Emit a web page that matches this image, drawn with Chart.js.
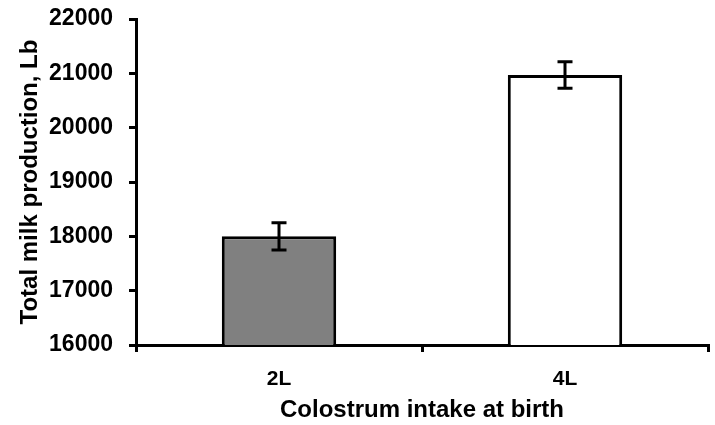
<!DOCTYPE html>
<html>
<head>
<meta charset="utf-8">
<script src="https://cdn.jsdelivr.net/npm/chart.js"></script>
<style>
  html, body { margin: 0; padding: 0; background: #fff; }
  #wrap { width: 715px; height: 425px; }
</style>
</head>
<body>
<div id="wrap"><canvas id="bar-chart" width="715" height="425"></canvas></div>
<script>
// Data
var categories = ['2L', '4L'];
var milkValues = [18000, 20970];
var milkErrors = [250, 245];
var barColors = ['#808080', '#ffffff'];
var yTicks = [16000, 17000, 18000, 19000, 20000, 21000, 22000];

var FONT = '"Liberation Sans", Arial, sans-serif';

// error bars, drawn from the y scale
var errorBarPlugin = {
  id: 'errorBars',
  afterDatasetsDraw: function (chart) {
    var ctx = chart.ctx;
    var yScale = chart.scales.y;
    var meta = chart.getDatasetMeta(0);
    ctx.save();
    ctx.strokeStyle = '#000';
    ctx.lineWidth = 3;
    meta.data.forEach(function (bar, i) {
      var x = bar.x;
      var top = yScale.getPixelForValue(milkValues[i] + milkErrors[i]);
      var bottom = yScale.getPixelForValue(milkValues[i] - milkErrors[i]);
      ctx.beginPath();
      ctx.moveTo(x, top);
      ctx.lineTo(x, bottom);
      ctx.moveTo(x - 7.5, top);
      ctx.lineTo(x + 7.5, top);
      ctx.moveTo(x - 7.5, bottom);
      ctx.lineTo(x + 7.5, bottom);
      ctx.stroke();
    });
    ctx.restore();
  }
};

var barChartData = {
  labels: categories,
  datasets: [{
    data: milkValues,
    backgroundColor: barColors,
    borderColor: '#000',
    borderWidth: 3,
    borderSkipped: 'bottom',
    categoryPercentage: 0.4,
    barPercentage: 1.0
  }]
};

var barChartOptions = {
  responsive: false,
  animation: false,
  layout: { padding: { top: 19, right: 7, left: 0, bottom: 0 } },
  plugins: {
    legend: { display: false },
    tooltip: { enabled: false }
  },
  scales: {
    x: {
      offset: true,
      afterFit: function (scale) { scale.height = 80; },
      grid: { drawOnChartArea: false, drawTicks: true, tickLength: 7, color: '#000', lineWidth: 3, offset: true },
      border: { display: true, color: '#000', width: 3 },
      ticks: { color: '#000', padding: 15, font: { family: FONT, size: 21, weight: 'bold' } },
      title: {
        display: true,
        text: 'Colostrum intake at birth',
        color: '#000',
        padding: { top: 0, bottom: 0 },
        font: { family: FONT, size: 24, weight: 'bold' }
      }
    },
    y: {
      min: 16000,
      max: 22000,
      afterFit: function (scale) {
        scale.width = 136;
        scale.paddingTop = 0;
        scale.paddingBottom = 0;
      },
      afterBuildTicks: function (scale) {
        scale.ticks = yTicks.map(function (v) { return { value: v }; });
      },
      grid: { drawOnChartArea: false, drawTicks: true, tickLength: 7, color: '#000', lineWidth: 3 },
      border: { display: true, color: '#000', width: 3 },
      ticks: {
        color: '#000',
        padding: 16,
        font: { family: FONT, size: 23, weight: 'bold' },
        callback: function (value) { return String(value); }
      },
      title: {
        display: true,
        text: 'Total milk production, Lb',
        color: '#000',
        padding: { top: 16, bottom: 0 },
        font: { family: FONT, size: 24, weight: 'bold' }
      }
    }
  }
};

var barChart = new Chart(document.getElementById('bar-chart'), {
  type: 'bar',
  data: barChartData,
  options: barChartOptions,
  plugins: [errorBarPlugin]
});
</script>
</body>
</html>
